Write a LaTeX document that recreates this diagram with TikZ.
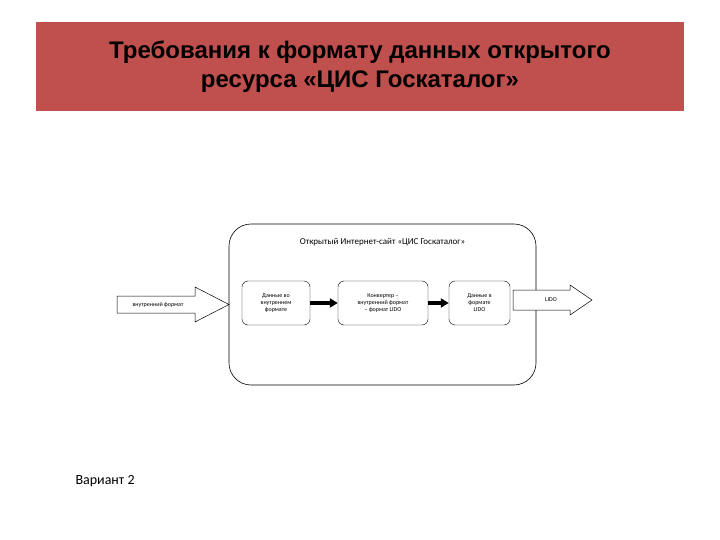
\documentclass[tikz,border=0pt]{standalone}
\usepackage{fontspec}
\setmainfont{Liberation Sans}
\newfontfamily\carl{Carlito}
\usetikzlibrary{arrows.meta}
\begin{document}
\begin{tikzpicture}[x=1pt,y=-1pt,
  inbox/.style={draw,rounded corners=6,minimum width=#1,minimum height=44,align=center,font=\carl\fontsize{6}{7}\selectfont,inner sep=1},
  thick arrow/.style={line width=3.5pt,-{Triangle[length=8pt,width=9pt]}},
  blockarrow/.style={draw,fill=white,line width=0.5pt}]
\useasboundingbox (0,0) rectangle (720,540);
\fill[fill={rgb,255:red,192;green,80;blue,77}] (36,22) rectangle (684,111);
\node[font=\bfseries\fontsize{24}{29}\selectfont,align=center] (title) at (360,67) {Требования к формату данных открытого\\ресурса «ЦИС Госкаталог»};
\node[draw,rounded corners=22,minimum width=307,minimum height=161,line width=0.6pt] (site) at (382.5,304.5) {};
\node[font=\carl\fontsize{9}{11}\selectfont] (sitetitle) at (382.5,242) {Открытый Интернет-сайт «ЦИС Госкаталог»};
\node[inbox=68] (b1) at (276,303) {Данные во\\внутреннем\\формате};
\node[inbox=90] (b2) at (383,303) {Конвертер –\\внутренний формат\\– формат LIDO};
\node[inbox=61] (b3) at (479.5,303) {Данные в\\формате\\LIDO};
\draw[thick arrow] (b1.east) -- (b2.west);
\draw[thick arrow] (b2.east) -- (b3.west);
\draw[blockarrow] (117,296) -- (195,296) -- (195,287) -- (229,304.5) -- (195,322) -- (195,313) -- (117,313) -- cycle;
\node[font=\carl\fontsize{6}{7}\selectfont] (lin) at (158,304.5) {внутренний формат};
\draw[blockarrow] (513,290) -- (570,290) -- (570,285) -- (592,300) -- (570,315) -- (570,310) -- (513,310) -- cycle;
\node[font=\carl\fontsize{6}{7}\selectfont] (lout) at (551,300) {LIDO};
\node[font=\carl\fontsize{14}{16}\selectfont,anchor=west] (var) at (72,481) {Вариант 2};
\end{tikzpicture}
\end{document}
